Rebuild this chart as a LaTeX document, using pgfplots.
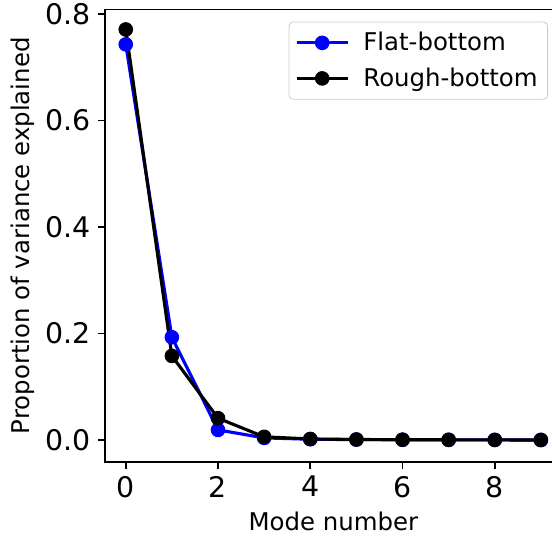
\documentclass[border=0pt]{standalone}
\usepackage{pgfplots}
\pgfplotsset{compat=1.18}
\usepackage{fontspec}
\setmainfont{DejaVu Sans}
\begin{document}
\begin{tikzpicture}
\begin{axis}[
  scale only axis, width=228.3pt, height=226.25pt,
  xmin=-0.45, xmax=9.45, ymin=-0.0413, ymax=0.8085,
  xtick={0,2,4,6,8}, ytick={0,0.2,0.4,0.6,0.8},
  xticklabel={\pgfmathprintnumber[assume math mode=true]{\tick}},
  yticklabel={\pgfmathprintnumber[assume math mode=true,fixed,fixed zerofill,precision=1]{\tick}},
  every tick label/.append style={font=\fontsize{14.2}{17}\selectfont},
  every axis label/.append style={font=\fontsize{12.2}{14}\selectfont},
  xlabel={Mode number}, ylabel={Proportion of variance explained},
  ylabel style={yshift=-1.5pt},
  tick align=outside, tick pos=left, major tick length=3.6pt,
  every tick/.style={black, line width=0.83pt},
  axis line style={line width=0.83pt},
  legend cell align=left,
  legend image code/.code={\draw[mark repeat=2,mark phase=2] plot coordinates {(0cm,0cm) (0.45cm,0cm) (0.9cm,0cm)};},
  legend style={at={(rel axis cs:1,1)}, anchor=north east, xshift=-6.8pt, yshift=-6.1pt,
    draw=black!20, rounded corners=2pt, font=\fontsize{12.2}{14}\selectfont,
    row sep=3pt, column sep=5pt, inner xsep=3pt, inner ysep=3pt},
]
\addplot[blue, line width=1.56pt, mark=*, mark size=3.4pt, mark options={solid, line width=0.5pt}] coordinates {
(0,0.743) (1,0.193) (2,0.019) (3,0.004) (4,0.0015) (5,0.0008) (6,0.0005) (7,0.0003) (8,0.0002) (9,0.0001)};
\addlegendentry{Flat-bottom}
\addplot[black, line width=1.56pt, mark=*, mark size=3.4pt, mark options={solid, line width=0.5pt}] coordinates {
(0,0.771) (1,0.158) (2,0.041) (3,0.006) (4,0.002) (5,0.001) (6,0.0006) (7,0.0004) (8,0.0002) (9,0.0001)};
\addlegendentry{Rough-bottom}
\coordinate (SW) at (axis cs:-0.45,-0.0413);
\coordinate (NE) at (axis cs:9.241,0.8085);
\end{axis}
\pgfresetboundingbox
\useasboundingbox ([xshift=-52.5pt,yshift=-38pt]SW) rectangle ([yshift=4.75pt]NE);
\end{tikzpicture}
\end{document}
